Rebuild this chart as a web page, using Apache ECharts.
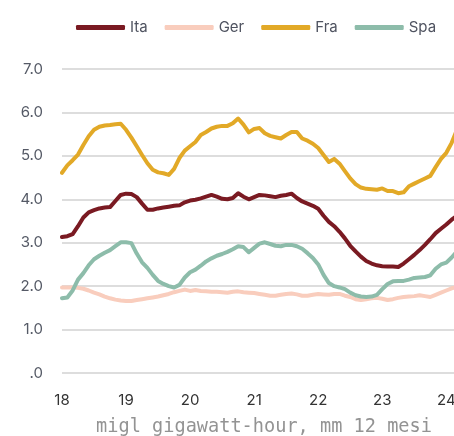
<!DOCTYPE html>
<html>
<head>
<meta charset="utf-8">
<script src="https://cdn.jsdelivr.net/npm/echarts@6/dist/echarts.min.js"></script>
<style>
  html, body { margin: 0; padding: 0; background: #fff; }
  #chart { width: 454px; height: 436px; }
</style>
</head>
<body>
<div id="chart"></div>
<script>
// monthly points starting Jan 2018 (x = 18 + i/12)
var startYear = 18
var seriesNames = ['Ita', 'Ger', 'Fra', 'Spa']
var colors = ['#7a1a22', '#f9cdbd', '#e2a927', '#8dbcaa']
var xTicks = [18, 19, 20, 21, 22, 23, 24]

var ita = [3.13, 3.15, 3.20, 3.38, 3.58, 3.70, 3.75, 3.79, 3.81, 3.82, 3.96, 4.10,
  4.13, 4.12, 4.05, 3.90, 3.76, 3.76, 3.79, 3.81, 3.83, 3.85, 3.86, 3.93,
  3.97, 3.99, 4.02, 4.06, 4.10, 4.06, 4.01, 4.00, 4.03, 4.14, 4.06, 4.00,
  4.05, 4.10, 4.09, 4.07, 4.05, 4.08, 4.10, 4.13, 4.03, 3.95, 3.90, 3.85,
  3.78, 3.62, 3.48, 3.38, 3.25, 3.10, 2.93, 2.80, 2.68, 2.58, 2.52, 2.48,
  2.46, 2.45, 2.45, 2.44, 2.52, 2.62, 2.72, 2.83, 2.95, 3.08, 3.22, 3.32,
  3.42, 3.53, 3.62]

var ger = [1.97, 1.97, 1.97, 1.96, 1.94, 1.90, 1.85, 1.81, 1.76, 1.72, 1.69, 1.67,
  1.66, 1.66, 1.68, 1.70, 1.72, 1.74, 1.76, 1.79, 1.82, 1.86, 1.89, 1.92,
  1.89, 1.91, 1.89, 1.88, 1.87, 1.87, 1.86, 1.85, 1.87, 1.88, 1.86, 1.85,
  1.84, 1.82, 1.80, 1.78, 1.78, 1.80, 1.82, 1.83, 1.81, 1.78, 1.78, 1.80,
  1.82, 1.81, 1.80, 1.82, 1.82, 1.78, 1.75, 1.70, 1.68, 1.70, 1.72, 1.73,
  1.71, 1.68, 1.70, 1.73, 1.75, 1.76, 1.77, 1.79, 1.77, 1.75, 1.80, 1.85,
  1.90, 1.95, 1.98]

var fra = [4.61, 4.78, 4.90, 5.03, 5.25, 5.45, 5.60, 5.67, 5.70, 5.71, 5.73, 5.74,
  5.60, 5.42, 5.22, 5.02, 4.83, 4.68, 4.62, 4.60, 4.56, 4.70, 4.95, 5.12,
  5.22, 5.32, 5.48, 5.55, 5.63, 5.67, 5.69, 5.69, 5.75, 5.86, 5.72, 5.54,
  5.62, 5.64, 5.52, 5.46, 5.43, 5.40, 5.48, 5.55, 5.55, 5.40, 5.35, 5.28,
  5.18, 5.02, 4.86, 4.93, 4.82, 4.65, 4.48, 4.35, 4.27, 4.24, 4.23, 4.22,
  4.25, 4.19, 4.19, 4.14, 4.16, 4.30, 4.36, 4.42, 4.48, 4.54, 4.74, 4.93,
  5.07, 5.30, 5.60]

var spa = [1.72, 1.74, 1.90, 2.15, 2.30, 2.48, 2.62, 2.70, 2.77, 2.83, 2.92, 3.01,
  3.01, 2.99, 2.75, 2.55, 2.42, 2.26, 2.12, 2.05, 2.00, 1.97, 2.03, 2.20,
  2.32, 2.38, 2.47, 2.57, 2.64, 2.70, 2.74, 2.79, 2.85, 2.92, 2.90, 2.78,
  2.88, 2.98, 3.01, 2.97, 2.93, 2.92, 2.95, 2.95, 2.92, 2.86, 2.76, 2.65,
  2.50, 2.26, 2.07, 2.00, 1.97, 1.93, 1.85, 1.79, 1.76, 1.75, 1.76, 1.80,
  1.93, 2.05, 2.11, 2.12, 2.12, 2.15, 2.19, 2.20, 2.21, 2.25, 2.40, 2.50,
  2.54, 2.66, 2.80]

function toPairs (arr) {
  return arr.map(function (v, i) { return [startYear + i / 12, v] })
}

var myChart = echarts.init(document.getElementById('chart'))
var option = {
  backgroundColor: '#fff',
  animation: false,
  legend: {
    top: 15,
    left: 71,
    icon: 'roundRect',
    itemWidth: 49,
    itemHeight: 5,
    itemGap: 17,
    textStyle: {
      color: '#4f5360',
      fontSize: 15,
      fontFamily: 'Inter'
    },
    data: seriesNames
  },
  grid: {
    left: 62,
    right: 0,
    top: 69,
    bottom: 63,
    outerBoundsMode: 'none'
  },
  xAxis: {
    type: 'value',
    min: 18,
    max: 24.12,
    interval: 1,
    name: 'migl gigawatt-hour, mm 12 mesi',
    nameLocation: 'middle',
    nameGap: 45,
    nameTextStyle: {
      color: '#939393',
      fontSize: 18.6,
      fontFamily: 'DejaVu Sans Mono',
      padding: [0, 0, 0, 12]
    },
    axisLine: { show: false },
    axisTick: { show: false },
    splitLine: { show: false },
    axisLabel: {
      margin: 20,
      color: '#333',
      fontSize: 15,
      fontFamily: 'Inter',
      showMaxLabel: false,
      formatter: function (v) {
        return xTicks.indexOf(v) >= 0 ? String(v) : ''
      }
    }
  },
  yAxis: {
    type: 'value',
    min: 0,
    max: 7,
    interval: 1,
    axisLine: { show: false },
    axisTick: { show: false },
    splitLine: {
      lineStyle: { color: '#dddddd', width: 2 }
    },
    axisLabel: {
      margin: 19,
      color: '#555a66',
      fontSize: 15,
      fontFamily: 'Inter',
      formatter: function (v) {
        return v === 0 ? '.0' : v.toFixed(1)
      }
    }
  },
  series: [ita, ger, fra, spa].map(function (arr, k) {
    return {
      name: seriesNames[k],
      type: 'line',
      data: toPairs(arr),
      showSymbol: false,
      symbol: 'none',
      color: colors[k],
      lineStyle: { width: 4, color: colors[k], cap: 'round', join: 'round' },
      z: k === 1 ? 1 : 2
    }
  })
}
myChart.setOption(option)
</script>
</body>
</html>
